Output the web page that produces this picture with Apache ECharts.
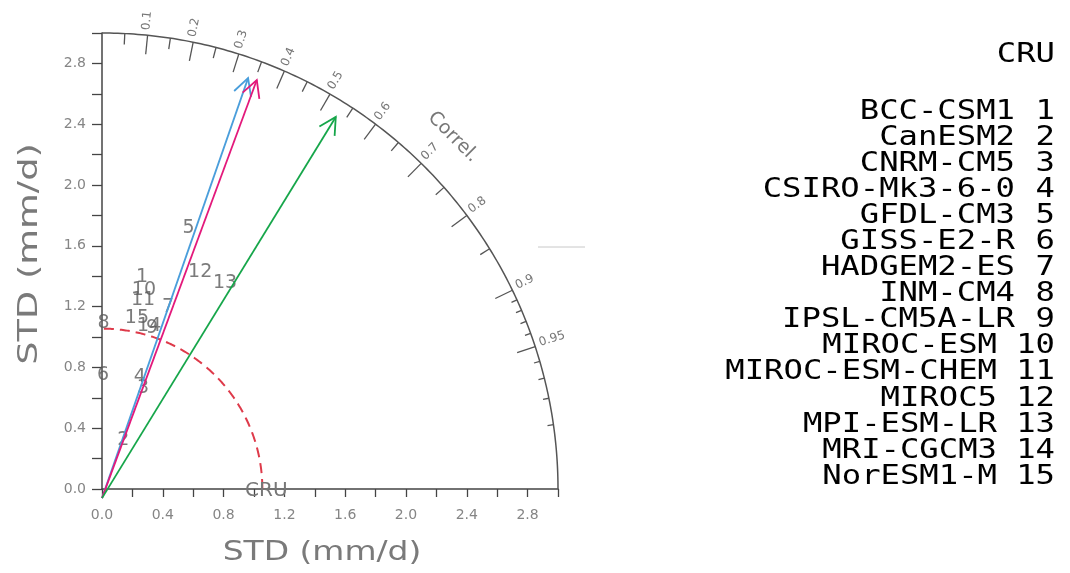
<!DOCTYPE html>
<html><head><meta charset="utf-8">
<script src="https://cdn.jsdelivr.net/npm/echarts@6/dist/echarts.min.js"></script>
<style>html,body{margin:0;padding:0;background:#fff}#c{width:1070px;height:573px}</style>
</head><body><div id="c"></div>
<script>
// ---------- data ----------
const models = ['BCC-CSM1','CanESM2','CNRM-CM5','CSIRO-Mk3-6-0','GFDL-CM3','GISS-E2-R','HADGEM2-ES','INM-CM4','IPSL-CM5A-LR','MIROC-ESM','MIROC-ESM-CHEM','MIROC5','MPI-ESM-LR','MRI-CGCM3','NorESM1-M'];
const modelIds = [1,2,3,4,5,6,7,8,9,10,11,12,13,14,15];
const modelStd  = [1.42, 0.349, 0.717, 0.778, 1.809, 0.75, 1.273, 1.092, 1.11, 1.338, 1.272, 1.567, 1.579, 1.116, 1.148];
const modelCorr = [0.185, 0.40, 0.377, 0.32, 0.315, 0.01, 0.341, 0.01, 0.297, 0.206, 0.212, 0.412, 0.513, 0.278, 0.20];
const refName = 'CRU';
const refStd = 1.055;
const arrowStd  = [2.869, 2.877, 2.891];
const arrowCorr = [0.335, 0.354, 0.532];
const stdTickLabels = ['0.0','0.4','0.8','1.2','1.6','2.0','2.4','2.8'];
const corrMajor = [0.1,0.2,0.3,0.4,0.5,0.6,0.7,0.8,0.9,0.95];
const corrMajorLabels = ['0.1','0.2','0.3','0.4','0.5','0.6','0.7','0.8','0.9','0.95'];
const corrMinor = [0.05,0.15,0.25,0.35,0.45,0.55,0.65,0.75,0.85];
const corrFine = [0.91,0.92,0.93,0.94,0.96,0.97,0.98,0.99];
const stdMax = 3.0;
const axisTitle = 'STD (mm/d)';
const corrTitle = 'Correl.';

// ---------- style ----------
const FONT = 'DejaVu Sans';
const MONO = 'DejaVu Sans Mono';
const arrowColors = ['#4a9edb', '#e3197b', '#16a64a'];
const axisColor = '#444';
const labelGray = '#858585';

const toXY = (s, c) => [s * c, s * Math.sqrt(Math.max(0, 1 - c * c))];

const pointData = modelIds.map((id, i) => { const p = toXY(modelStd[i], modelCorr[i]); return [p[0], p[1], id]; });
const tickData = [];
corrMajor.forEach((c, i) => tickData.push([c, 0, i]));
corrMinor.forEach(c => tickData.push([c, 1, -1]));
corrFine.forEach(c => tickData.push([c, 2, -1]));

function renderCorrTick(params, api) {
  const c = api.value(0), kind = api.value(1), li = api.value(2);
  const th = Math.acos(c);
  const o = api.coord([0, 0]);
  const p = api.coord([stdMax * Math.cos(th), stdMax * Math.sin(th)]);
  const dx = p[0] - o[0], dy = p[1] - o[1], L = Math.hypot(dx, dy);
  const ux = dx / L, uy = dy / L;
  const len = kind === 0 ? 19 : (kind === 1 ? 11 : 6);
  const children = [{ type: 'line', shape: { x1: p[0], y1: p[1], x2: p[0] - ux * len, y2: p[1] - uy * len },
    style: { stroke: '#555', lineWidth: 1.3 } }];
  if (kind === 0) {
    const px = -Math.sin(th), py = -Math.cos(th);
    children.push({ type: 'text', x: p[0] + ux * 5 + px * 2, y: p[1] + uy * 5 + py * 2, rotation: th,
      style: { text: corrMajorLabels[li], fill: '#777', fontSize: 12, fontFamily: FONT,
        align: 'left', verticalAlign: 'middle', textAlign: 'left', textVerticalAlign: 'middle' } });
  }
  return { type: 'group', children };
}

function arcPoints(api, r) {
  const pts = [];
  for (let k = 0; k <= 180; k++) { const a = Math.PI / 2 * k / 180; pts.push(api.coord([r * Math.cos(a), r * Math.sin(a)])); }
  return pts;
}

const arrowStartY = -0.06;
function renderArrow(params, api) {
  const s = api.value(0), c = api.value(1), idx = api.value(2);
  const e = toXY(s, c);
  const p0 = api.coord([0, arrowStartY]);
  const p1 = api.coord(e);
  const ang = Math.atan2(p0[1] - p1[1], p0[0] - p1[0]);
  const hl = 19, ha = 28 * Math.PI / 180;
  const col = arrowColors[idx];
  return { type: 'group', children: [
    { type: 'line', shape: { x1: p0[0], y1: p0[1], x2: p1[0], y2: p1[1] }, style: { stroke: col, lineWidth: 1.8 } },
    { type: 'polyline', shape: { points: [
        [p1[0] + hl * Math.cos(ang + ha), p1[1] + hl * Math.sin(ang + ha)], p1,
        [p1[0] + hl * Math.cos(ang - ha), p1[1] + hl * Math.sin(ang - ha)] ] },
      style: { stroke: col, lineWidth: 1.8, fill: null } }
  ] };
}

// legend graphic
const legendEls = [];
const LSX = 1.24;
const legStyle = (t) => ({ text: t, fill: '#000', fontSize: 26, fontFamily: MONO, align: 'right', verticalAlign: 'middle', textAlign: 'right', textVerticalAlign: 'middle' });
legendEls.push({ type: 'text', x: 1055, y: 55, scaleX: LSX, style: legStyle(refName) });
models.forEach((m, i) => {
  const y = 112 + i * 26.07;
  const nameRight = modelIds[i] < 10 ? 1015 : 997;
  legendEls.push({ type: 'text', x: nameRight, y, scaleX: LSX, style: legStyle(m) });
  legendEls.push({ type: 'text', x: 1055, y, scaleX: LSX, style: legStyle(String(modelIds[i])) });
});

const titleStyle = { text: axisTitle, fill: '#7a7a7a', fontSize: 27, fontFamily: FONT, align: 'center', verticalAlign: 'middle', textAlign: 'center', textVerticalAlign: 'middle' };

const option = {
  animation: false,
  backgroundColor: '#fff',
  grid: { left: 102, top: 33, width: 456, height: 456, containLabel: false },
  xAxis: {
    type: 'value', min: 0, max: stdMax, interval: 0.2,
    axisLine: { show: true, onZero: false, lineStyle: { color: axisColor, width: 1.5 } },
    axisTick: { show: true, length: 8, lineStyle: { color: axisColor, width: 1.3 } },
    axisLabel: { showMinLabel: true, showMaxLabel: true, margin: 19, fontSize: 14, fontFamily: FONT, color: labelGray,
      formatter: (v, i) => (i % 2 === 0 && stdTickLabels[i / 2] !== undefined) ? stdTickLabels[i / 2] : '' },
    splitLine: { show: false }
  },
  yAxis: {
    type: 'value', min: 0, max: stdMax, interval: 0.2,
    axisLine: { show: true, onZero: false, lineStyle: { color: axisColor, width: 1.5 } },
    axisTick: { show: true, length: 10, lineStyle: { color: axisColor, width: 1.3 } },
    axisLabel: { showMinLabel: true, showMaxLabel: true, margin: 16, fontSize: 14, fontFamily: FONT, color: labelGray,
      formatter: (v, i) => (i % 2 === 0 && stdTickLabels[i / 2] !== undefined) ? stdTickLabels[i / 2] : '' },
    splitLine: { show: false }
  },
  graphic: [
    { type: 'text', x: 322, y: 553, scaleX: 1.22, style: Object.assign({}, titleStyle) },
    { type: 'text', x: 30, y: 254, rotation: Math.PI / 2, scaleX: 1.36, style: Object.assign({}, titleStyle) },
    { type: 'text', x: 453, y: 137, rotation: -Math.PI / 4,
      style: { text: corrTitle, fill: '#777', fontSize: 19, fontFamily: FONT, align: 'center', verticalAlign: 'middle', textAlign: 'center', textVerticalAlign: 'middle' } },
    { type: 'line', shape: { x1: 538, y1: 247, x2: 585, y2: 247 }, style: { stroke: '#c8c8c8', lineWidth: 1 } }
  ].concat(legendEls),
  series: [
    { type: 'custom', coordinateSystem: 'cartesian2d', silent: true, z: 1, data: [[0, 0]],
      renderItem: (p, api) => ({ type: 'polyline', shape: { points: arcPoints(api, stdMax) }, style: { stroke: '#555', lineWidth: 1.5, fill: null } }) },
    { type: 'custom', coordinateSystem: 'cartesian2d', silent: true, z: 1, data: tickData, renderItem: renderCorrTick },
    { type: 'custom', coordinateSystem: 'cartesian2d', silent: true, z: 2, data: [[refStd, 0]],
      renderItem: (p, api) => ({ type: 'group', children: [
        { type: 'polyline', shape: { points: arcPoints(api, api.value(0)) }, style: { stroke: '#de3a4a', lineWidth: 2, lineDash: [10, 6], fill: null } },
        (function () { const q = api.coord([api.value(0), 0]); return { type: 'text', x: q[0] + 4, y: q[1] + 2,
          style: { text: refName, fill: '#777', fontSize: 20, fontFamily: FONT, align: 'center', verticalAlign: 'middle', textAlign: 'center', textVerticalAlign: 'middle' } }; })()
      ] }) },
    { type: 'scatter', z: 3, data: pointData, symbolSize: 2, clip: false, itemStyle: { color: 'rgba(0,0,0,0)' },
      label: { show: true, position: 'inside', formatter: p => String(p.value[2]), fontSize: 19, fontFamily: FONT, color: '#5a5a5a' },
      labelLayout: { hideOverlap: false } },
    { type: 'custom', coordinateSystem: 'cartesian2d', silent: true, z: 4,
      data: arrowStd.map((s, i) => [s, arrowCorr[i], i]), renderItem: renderArrow }
  ]
};
const chart = echarts.init(document.getElementById('c'));
chart.setOption(option);
</script>
</body></html>
